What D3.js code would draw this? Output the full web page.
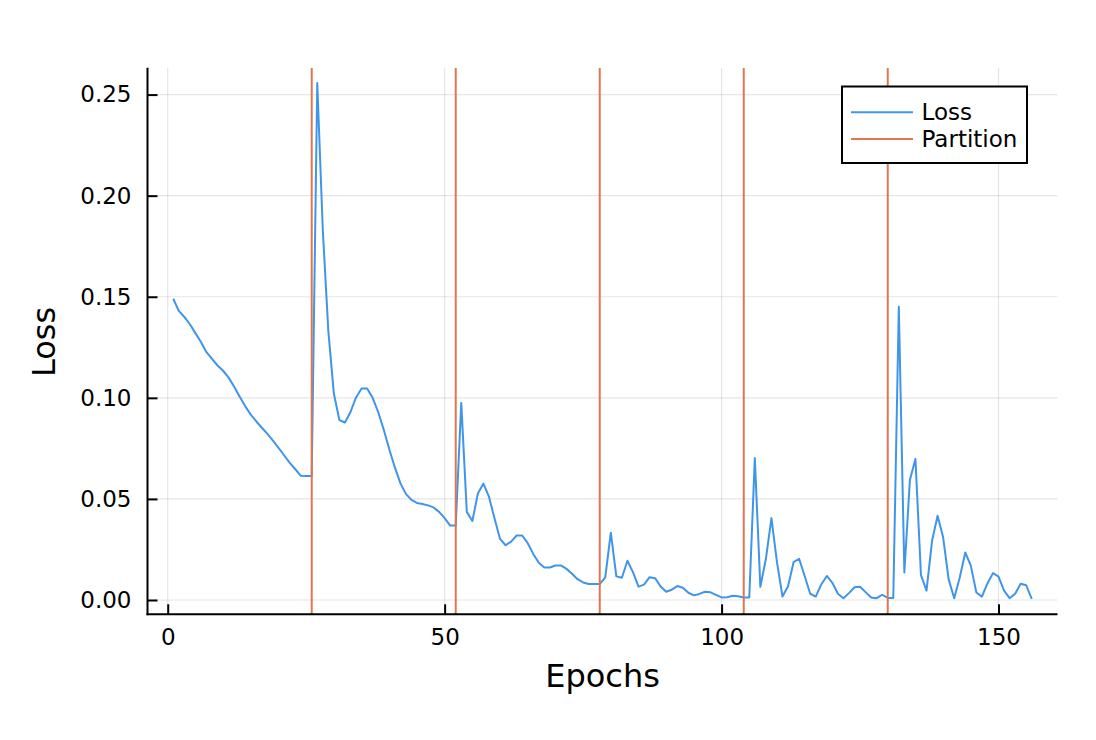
<!DOCTYPE html>
<html>
<head>
<meta charset="utf-8">
<script src="https://cdn.jsdelivr.net/npm/d3@7"></script>
<style>
  html, body { margin: 0; padding: 0; background: #fff; }
  svg { display: block; font-family: "DejaVu Sans", sans-serif; }
</style>
</head>
<body>
<svg id="chart" width="1096" height="740"></svg>
<script>
// ---- data ----
const epochs = d3.range(1, 157);
const loss = [
  0.149, 0.143, 0.140, 0.1364, 0.132, 0.1276, 0.1226, 0.1193, 0.116, 0.1134,
  0.110, 0.1055, 0.1005, 0.0958, 0.0917, 0.0883, 0.0852, 0.0822, 0.0788, 0.0753,
  0.0716, 0.068, 0.0648, 0.0615, 0.0613, 0.0613, 0.2557, 0.183, 0.133, 0.102,
  0.089, 0.0878, 0.093, 0.1002, 0.1046, 0.1046, 0.100, 0.093, 0.0843, 0.0746,
  0.0657, 0.0578, 0.0525, 0.0495, 0.048, 0.0475, 0.0468, 0.0458, 0.0436, 0.0405,
  0.0368, 0.0368, 0.0975, 0.0436, 0.0391, 0.0527, 0.0576, 0.0511, 0.0404, 0.0302,
  0.0271, 0.0289, 0.0319, 0.0319, 0.0281, 0.0228, 0.0184, 0.0161, 0.0161, 0.0171,
  0.0171, 0.0154, 0.013, 0.0103, 0.0087, 0.0079, 0.0079, 0.0079, 0.0112, 0.0333,
  0.0117, 0.011, 0.0194, 0.0138, 0.0066, 0.0076, 0.0113, 0.0108, 0.0067, 0.0041,
  0.0051, 0.0069, 0.0061, 0.0036, 0.0023, 0.003, 0.0041, 0.0038, 0.0025, 0.0013,
  0.0014, 0.0021, 0.0019, 0.0012, 0.0012, 0.0702, 0.0065, 0.0204, 0.0405, 0.0187,
  0.0017, 0.0068, 0.0187, 0.0204, 0.0119, 0.0031, 0.0017, 0.0077, 0.0119, 0.0085,
  0.0031, 0.0009, 0.0034, 0.0063, 0.0066, 0.0039, 0.0012, 0.0009, 0.0026, 0.001,
  0.001, 0.1451, 0.0136, 0.0593, 0.0698, 0.0123, 0.0046, 0.0293, 0.0417, 0.031,
  0.0102, 0.0009, 0.0111, 0.0235, 0.017, 0.0037, 0.0017, 0.0082, 0.0133, 0.0116,
  0.0046, 0.0009, 0.0031, 0.008, 0.0073, 0.0005
];
const partitions = [26, 52, 78, 104, 130];
const xTicks = [0, 50, 100, 150];
const yTicks = [0, 0.05, 0.10, 0.15, 0.20, 0.25];
const seriesNames = ["Loss", "Partition"];
const colors = ["#3f95ea", "#e0764f"];

// ---- layout ----
const svg = d3.select("#chart");
const L = 147.5, R = 1057.5, T = 67.7, B = 614.3;
const x = d3.scaleLinear().domain([-3.65, 160.65]).range([L, R]);
const y = d3.scaleLinear().domain([-0.00707, 0.2633]).range([B, T]);

// grid
const grid = svg.append("g").attr("stroke", "#000").attr("stroke-opacity", 0.1).attr("stroke-width", 1.2);
grid.selectAll(".gx").data(xTicks).join("line")
  .attr("x1", d => x(d)).attr("x2", d => x(d)).attr("y1", T).attr("y2", B);
grid.selectAll(".gy").data(yTicks).join("line")
  .attr("x1", L).attr("x2", R).attr("y1", d => y(d)).attr("y2", d => y(d));

// clip
svg.append("clipPath").attr("id", "clip").append("rect")
  .attr("x", L).attr("y", T).attr("width", R - L).attr("height", B - T);

const plot = svg.append("g").attr("clip-path", "url(#clip)");

// loss line
const line = d3.line().x((d, i) => x(epochs[i])).y(d => y(d));
plot.append("path").datum(loss)
  .attr("fill", "none").attr("stroke", colors[0]).attr("stroke-width", 2)
  .attr("stroke-linejoin", "round").attr("d", line);

// partitions
plot.selectAll(".part").data(partitions).join("line")
  .attr("x1", d => x(d)).attr("x2", d => x(d)).attr("y1", T).attr("y2", B)
  .attr("stroke", colors[1]).attr("stroke-width", 2);

// axes
const fmt = d3.format(".2f");
const ax = svg.append("g").attr("transform", `translate(0,${B})`)
  .call(d3.axisBottom(x).tickValues(xTicks).tickFormat(d3.format("d")).tickSize(-10).tickSizeOuter(0).tickPadding(14));
const ay = svg.append("g").attr("transform", `translate(${L},0)`)
  .call(d3.axisLeft(y).tickValues(yTicks).tickFormat(fmt).tickSize(-10).tickSizeOuter(0).tickPadding(16));
[ax, ay].forEach(g => {
  g.select(".domain").attr("stroke", "#000").attr("stroke-width", 2);
  g.selectAll(".tick line").attr("stroke", "#000").attr("stroke-width", 2);
  g.selectAll(".tick text").attr("fill", "#000").style("font-size", "23px").style("font-family", "DejaVu Sans");
});
ax.select(".domain").attr("d", `M${L - 1},0H${R}`);
ay.select(".domain").attr("d", `M0,${T}V${B + 1}`);

// axis titles
svg.append("text").attr("x", (L + R) / 2).attr("y", 686.5).attr("text-anchor", "middle")
  .style("font-size", "32px").text("Epochs");
svg.append("text").attr("transform", `translate(55,${(T + B) / 2 + 1}) rotate(-90)`)
  .attr("text-anchor", "middle").style("font-size", "32px").text("Loss");

// legend
const lg = svg.append("g");
lg.append("rect").attr("x", 842).attr("y", 86.5).attr("width", 185).attr("height", 76.5)
  .attr("fill", "#fff").attr("stroke", "#000").attr("stroke-width", 2);
const ly = [112.3, 139];
seriesNames.forEach((n, i) => {
  lg.append("line").attr("x1", 851).attr("x2", 913).attr("y1", ly[i]).attr("y2", ly[i])
    .attr("stroke", colors[i]).attr("stroke-width", 2);
  lg.append("text").attr("x", 921.5).attr("y", ly[i] + 8).style("font-size", "23px").text(n);
});
</script>
</body>
</html>
